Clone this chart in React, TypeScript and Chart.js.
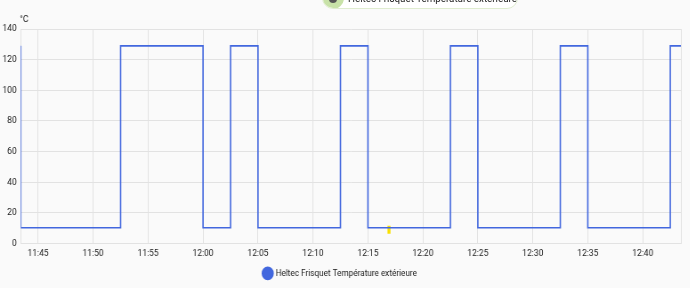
import React, { useEffect, useRef } from "react";
import { Chart, registerables } from "chart.js";

Chart.register(...registerables);

const SERIES_LABEL = "Heltec Frisquet Température extérieure";
const UNIT_LABEL = "°C";
const PILL_TEXT = "Heltec Frisquet Température extérieure · 11";

const times = [
  "11:43:25", "11:43:25", "11:52:30", "12:00:00", "12:02:30", "12:05:00",
  "12:12:30", "12:15:00", "12:22:30", "12:25:00", "12:32:30", "12:35:00",
  "12:42:30", "12:43:28",
];
const temps = [129, 10.2, 129, 10.2, 129, 10.2, 129, 10.2, 129, 10.2, 129, 10.2, 129, 129];

const markerTimes = ["12:16:55"];
const markerValues = [8.9];

const X_MIN = "11:43:25";
const X_MAX = "12:43:28";
const X_STEP_MIN = 5;
const Y_MIN = 0;
const Y_MAX = 140;
const Y_STEP = 20;

const SX = 0.89;
const CW = Math.round(690 / SX);
const CH = 288;
const FONT = "Roboto";
const FS = 9.5;
const TEXT = "#212121";
const GRID = "#e2e2e2";
const LINE = "rgb(66,103,222)";

const toMin = (s: string) => {
  const [h, m, sec] = s.split(":").map(Number);
  return h * 60 + m + (sec || 0) / 60;
};
const fmt = (v: number) => {
  const h = Math.floor(v / 60);
  const m = Math.round(v - h * 60);
  return `${h}:${String(m).padStart(2, "0")}`;
};

const unitPlugin = {
  id: "unitLabel",
  afterDraw(chart: any) {
    const { ctx, chartArea } = chart;
    ctx.save();
    ctx.font = `${FS}px ${FONT}`;
    ctx.fillStyle = TEXT;
    ctx.textAlign = "left";
    ctx.textBaseline = "middle";
    ctx.fillText(UNIT_LABEL, chartArea.left - 1, chartArea.top - 9);
    ctx.restore();
  },
};

export default function App() {
  const ref = useRef<HTMLCanvasElement | null>(null);

  useEffect(() => {
    if (!ref.current) return;
    const xmin = toMin(X_MIN);
    const xmax = toMin(X_MAX);
    const chart = new Chart(ref.current, {
      type: "line",
      data: {
        datasets: [
          {
            label: SERIES_LABEL,
            data: times.map((t, i) => ({ x: toMin(t), y: temps[i] })),
            borderColor: LINE,
            backgroundColor: LINE,
            borderWidth: 1.6,
            pointRadius: 0,
            stepped: "before",
            fill: false,
          },
          {
            label: "marker",
            data: markerTimes.map((t, i) => ({ x: toMin(t), y: markerValues[i] })),
            showLine: false,
            pointStyle: "line",
            rotation: 90,
            pointRadius: 4,
            borderWidth: 3.4,
            borderColor: "#f9e000",
            backgroundColor: "#f9e000",
          },
        ],
      },
      options: {
        responsive: false,
        animation: false,
        devicePixelRatio: 1,
        layout: { padding: { top: 29, right: 10, left: 0, bottom: 0 } },
        scales: {
          x: {
            type: "linear",
            min: xmin,
            max: xmax,
            afterBuildTicks: (axis: any) => {
              const ticks: any[] = [];
              for (let v = Math.ceil(xmin / X_STEP_MIN) * X_STEP_MIN; v <= xmax; v += X_STEP_MIN) {
                ticks.push({ value: v });
              }
              ticks.push({ value: xmax });
              axis.ticks = ticks;
            },
            afterFit: (axis: any) => {
              axis.height = axis.height - 6;
            },
            ticks: {
              autoSkip: false,
              maxRotation: 0,
              padding: 5,
              color: TEXT,
              font: { family: FONT, size: FS },
              callback: (v: any) => {
                const n = Number(v);
                return Math.abs(n / X_STEP_MIN - Math.round(n / X_STEP_MIN)) < 1e-6 ? fmt(n) : "";
              },
            },
            grid: { color: GRID, drawTicks: false, lineWidth: 1 },
            border: { color: GRID },
          },
          y: {
            min: Y_MIN,
            max: Y_MAX,
            afterFit: (axis: any) => {
              axis.width = 23.3;
            },
            ticks: {
              stepSize: Y_STEP,
              padding: 4.5,
              color: TEXT,
              font: { family: FONT, size: FS },
            },
            grid: { color: GRID, drawTicks: false, lineWidth: 1 },
            border: { color: GRID },
          },
        },
        plugins: {
          legend: {
            position: "bottom",
            labels: {
              usePointStyle: true,
              pointStyle: "circle",
              boxHeight: 8.5,
              boxWidth: 8.5,
              color: TEXT,
              font: { family: FONT, size: 9.2 },
              filter: (item: any) => item.datasetIndex === 0,
            },
          },
          tooltip: { enabled: false },
        },
      },
      plugins: [unitPlugin],
    } as any);
    return () => chart.destroy();
  }, []);

  return (
    <div
      style={{
        position: "fixed",
        left: 0,
        top: 0,
        width: 690,
        height: 288,
        overflow: "hidden",
        background: "#fafafa",
      }}
    >
      <canvas
        ref={ref}
        width={CW}
        height={CH}
        style={{
          position: "absolute",
          left: 0,
          top: 0,
          width: CW,
          height: CH,
          transform: `scaleX(${SX})`,
          transformOrigin: "0 0",
        }}
      />
      <div
        style={{
          position: "absolute",
          left: 322,
          top: -13,
          width: 196,
          height: 22,
          borderRadius: 11,
          background: "#ffffff",
          border: "1px solid #dfeccf",
          boxSizing: "border-box",
          overflow: "hidden",
        }}
      >
        <div
          style={{
            position: "absolute",
            left: -1,
            top: -1,
            width: 22,
            height: 22,
            borderRadius: 11,
            background: "#c8e2a8",
          }}
        >
          <div
            style={{
              position: "absolute",
              left: 7,
              top: 8,
              width: 8,
              height: 8,
              borderRadius: 4,
              background: "#555",
            }}
          />
        </div>
        <div
          style={{
            position: "absolute",
            left: 25,
            top: 3.5,
            whiteSpace: "nowrap",
            fontFamily: FONT,
            fontSize: 11,
            lineHeight: "13px",
            color: TEXT,
            transform: `scaleX(${SX})`,
            transformOrigin: "0 0",
          }}
        >
          {PILL_TEXT}
        </div>
      </div>
    </div>
  );
}
